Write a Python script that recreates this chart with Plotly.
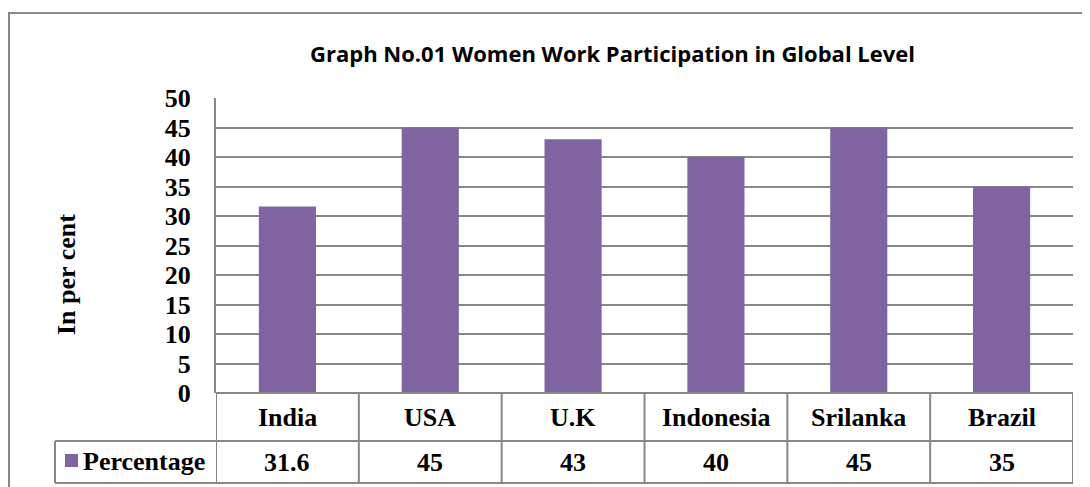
import plotly.graph_objects as go

# data
countries = ["India", "USA", "U.K", "Indonesia", "Srilanka", "Brazil"]
percentage = [31.6, 45, 43, 40, 45, 35]
series_name = "Percentage"
y_ticks = [0, 5, 10, 15, 20, 25, 30, 35, 40, 45, 50]

BAR = "#8064A2"
GRID = "#878787"
SERIF = "Liberation Serif, Times New Roman, serif"
SANS = "Open Sans, Noto Sans, sans-serif"

# the page body adds an 8px margin, so the figure is drawn 8px in from the window edge
OFF = 8
W, H = 1090 - OFF, 487 - OFF
L, R, T, B = 216, 1073, 98, 393  # plot area, window px


def xp(px):
    return (px - L) / (R - L)


def yp(py):
    return (B - py) / (B - T)


fig = go.Figure(
    go.Bar(x=countries, y=percentage, marker_color=BAR, marker_line_width=0, name=series_name)
)

shapes = []
line = dict(color=GRID, width=2)
# outer chart border (runs off the right and bottom edges)
shapes.append(dict(type="rect", xref="paper", yref="paper", x0=xp(9), x1=xp(1100),
                   y0=yp(500), y1=yp(13), line=line, layer="below"))
# data table rows
row1, row2 = 441, 483
for py, x0 in [(B, L), (row1, 55), (row2, 55)]:
    shapes.append(dict(type="line", xref="paper", yref="paper", x0=xp(x0), x1=1,
                       y0=yp(py), y1=yp(py), line=line))
# table columns follow the category axis
for i in range(len(countries) + 1):
    shapes.append(dict(type="line", xref="x", yref="paper", x0=i - 0.5, x1=i - 0.5,
                       y0=yp(B), y1=yp(row2), line=line))
shapes.append(dict(type="line", xref="paper", yref="paper", x0=xp(55), x1=xp(55),
                   y0=yp(row1), y1=yp(row2), line=line))
# legend key
shapes.append(dict(type="rect", xref="paper", yref="paper", x0=xp(65), x1=xp(78),
                   y0=yp(467), y1=yp(454), fillcolor=BAR, line_width=0))

annotations = []
cat_font = dict(family=SERIF, size=26, color="black", weight="bold")
for c, v in zip(countries, percentage):
    annotations.append(dict(x=c, y=yp(417), xref="x", yref="paper", text=c,
                            showarrow=False, xanchor="center", yanchor="middle", font=cat_font))
    annotations.append(dict(x=c, y=yp(462), xref="x", yref="paper", text=f"{v:g}",
                            showarrow=False, xanchor="center", yanchor="middle", font=cat_font))
annotations.append(dict(x=xp(81), y=yp(461), xref="paper", yref="paper", text=series_name,
                        showarrow=False, xanchor="left", yanchor="middle", font=cat_font))
annotations.append(dict(x=xp(66), y=yp(275), xref="paper", yref="paper", text="In per cent",
                        showarrow=False, textangle=-90, xanchor="center", yanchor="middle",
                        font=cat_font))
annotations.append(dict(x=xp(612), y=yp(53), xref="paper", yref="paper",
                        text="Graph No.01 Women Work Participation in Global Level",
                        showarrow=False, xanchor="center", yanchor="middle",
                        font=dict(family=SANS, size=22, color="black", weight="bold")))

fig.update_layout(
    width=W, height=H,
    margin=dict(l=L - OFF, r=W + OFF - R, t=T - OFF, b=H + OFF - B),
    paper_bgcolor="white", plot_bgcolor="white",
    showlegend=False,
    bargap=0.6,
    shapes=shapes,
    annotations=annotations,
)
fig.update_xaxes(showticklabels=False, showgrid=False, showline=False, zeroline=False,
                 range=[-0.5, len(countries) - 0.5])
fig.update_yaxes(range=[0, 50], tickvals=y_ticks, showgrid=True, gridcolor=GRID, gridwidth=2,
                 zeroline=False, showline=True, linecolor=GRID, linewidth=2,
                 ticks="", ticklabelstandoff=18,
                 tickfont=dict(family=SERIF, size=26, color="black", weight="bold"))

fig.write_html("out.html")
